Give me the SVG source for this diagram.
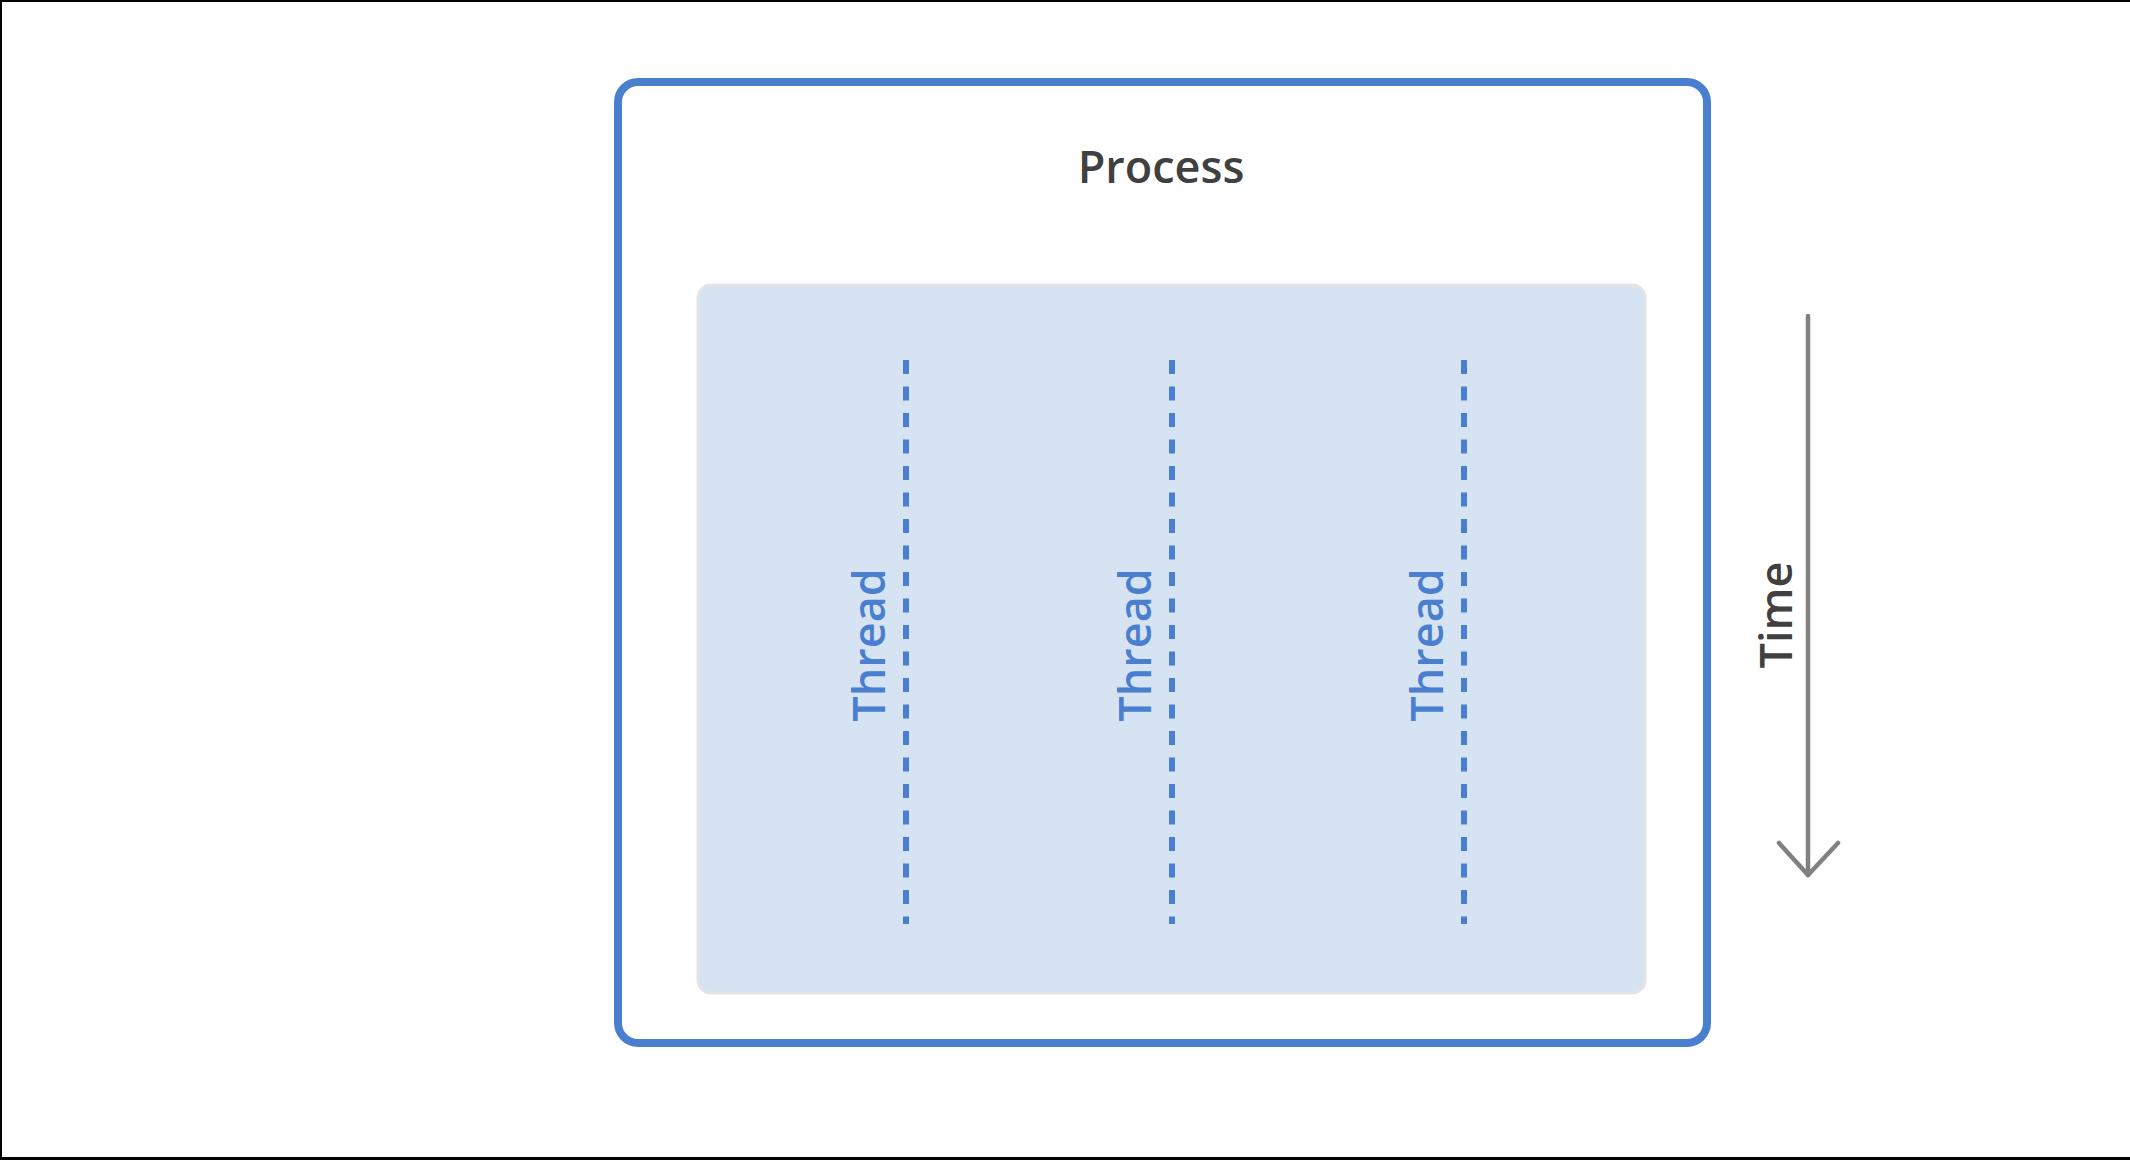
<svg xmlns="http://www.w3.org/2000/svg" width="2130" height="1160" viewBox="0 0 2130 1160">
  <style>
    .label { font-family: "Open Sans", "Liberation Sans", sans-serif; font-size: 45px; text-anchor: middle; font-weight: 600; }
    .thread-text { fill: #4a7fcf; }
    .thread-line { stroke: #4a7fcf; stroke-width: 6; stroke-dasharray: 14 12.5; fill: none; }
  </style>
  <rect x="0" y="0" width="2130" height="1160" fill="#ffffff"/>
  <g id="frame" fill="#000000">
    <rect x="0" y="0" width="2130" height="2"/>
    <rect x="0" y="0" width="2" height="1160"/>
    <rect x="0" y="1157" width="2130" height="3"/>
  </g>
  <g id="process">
    <rect x="618" y="82" width="1089" height="961" rx="20" ry="20" fill="#ffffff" stroke="#4a7fcf" stroke-width="8"/>
    <text class="label" x="1161" y="183" fill="#404040">Process</text>
  </g>
  <g id="thread-area">
    <rect x="698" y="285" width="947" height="708" rx="13" ry="13" fill="#d6e3f2" stroke="#e4e4e4" stroke-width="3"/>
  </g>
  <g id="thread1">
    <line class="thread-line" x1="906" y1="360" x2="906" y2="924"/>
    <text class="label thread-text" transform="translate(885 645) rotate(-90)">Thread</text>
  </g>
  <g id="thread2">
    <line class="thread-line" x1="1172" y1="360" x2="1172" y2="924"/>
    <text class="label thread-text" transform="translate(1151 645) rotate(-90)">Thread</text>
  </g>
  <g id="thread3">
    <line class="thread-line" x1="1464" y1="360" x2="1464" y2="924"/>
    <text class="label thread-text" transform="translate(1443 645) rotate(-90)">Thread</text>
  </g>
  <g id="connectors">
    <g id="time-arrow" stroke="#808080" stroke-width="4.5" fill="none" stroke-linecap="round" stroke-linejoin="round">
      <line x1="1808" y1="316" x2="1808" y2="875"/>
      <polyline points="1779,843 1808,875 1838,843"/>
    </g>
  </g>
  <g id="time-label">
    <text class="label" transform="translate(1792 615) rotate(-90)" fill="#404040">Time</text>
  </g>
</svg>
